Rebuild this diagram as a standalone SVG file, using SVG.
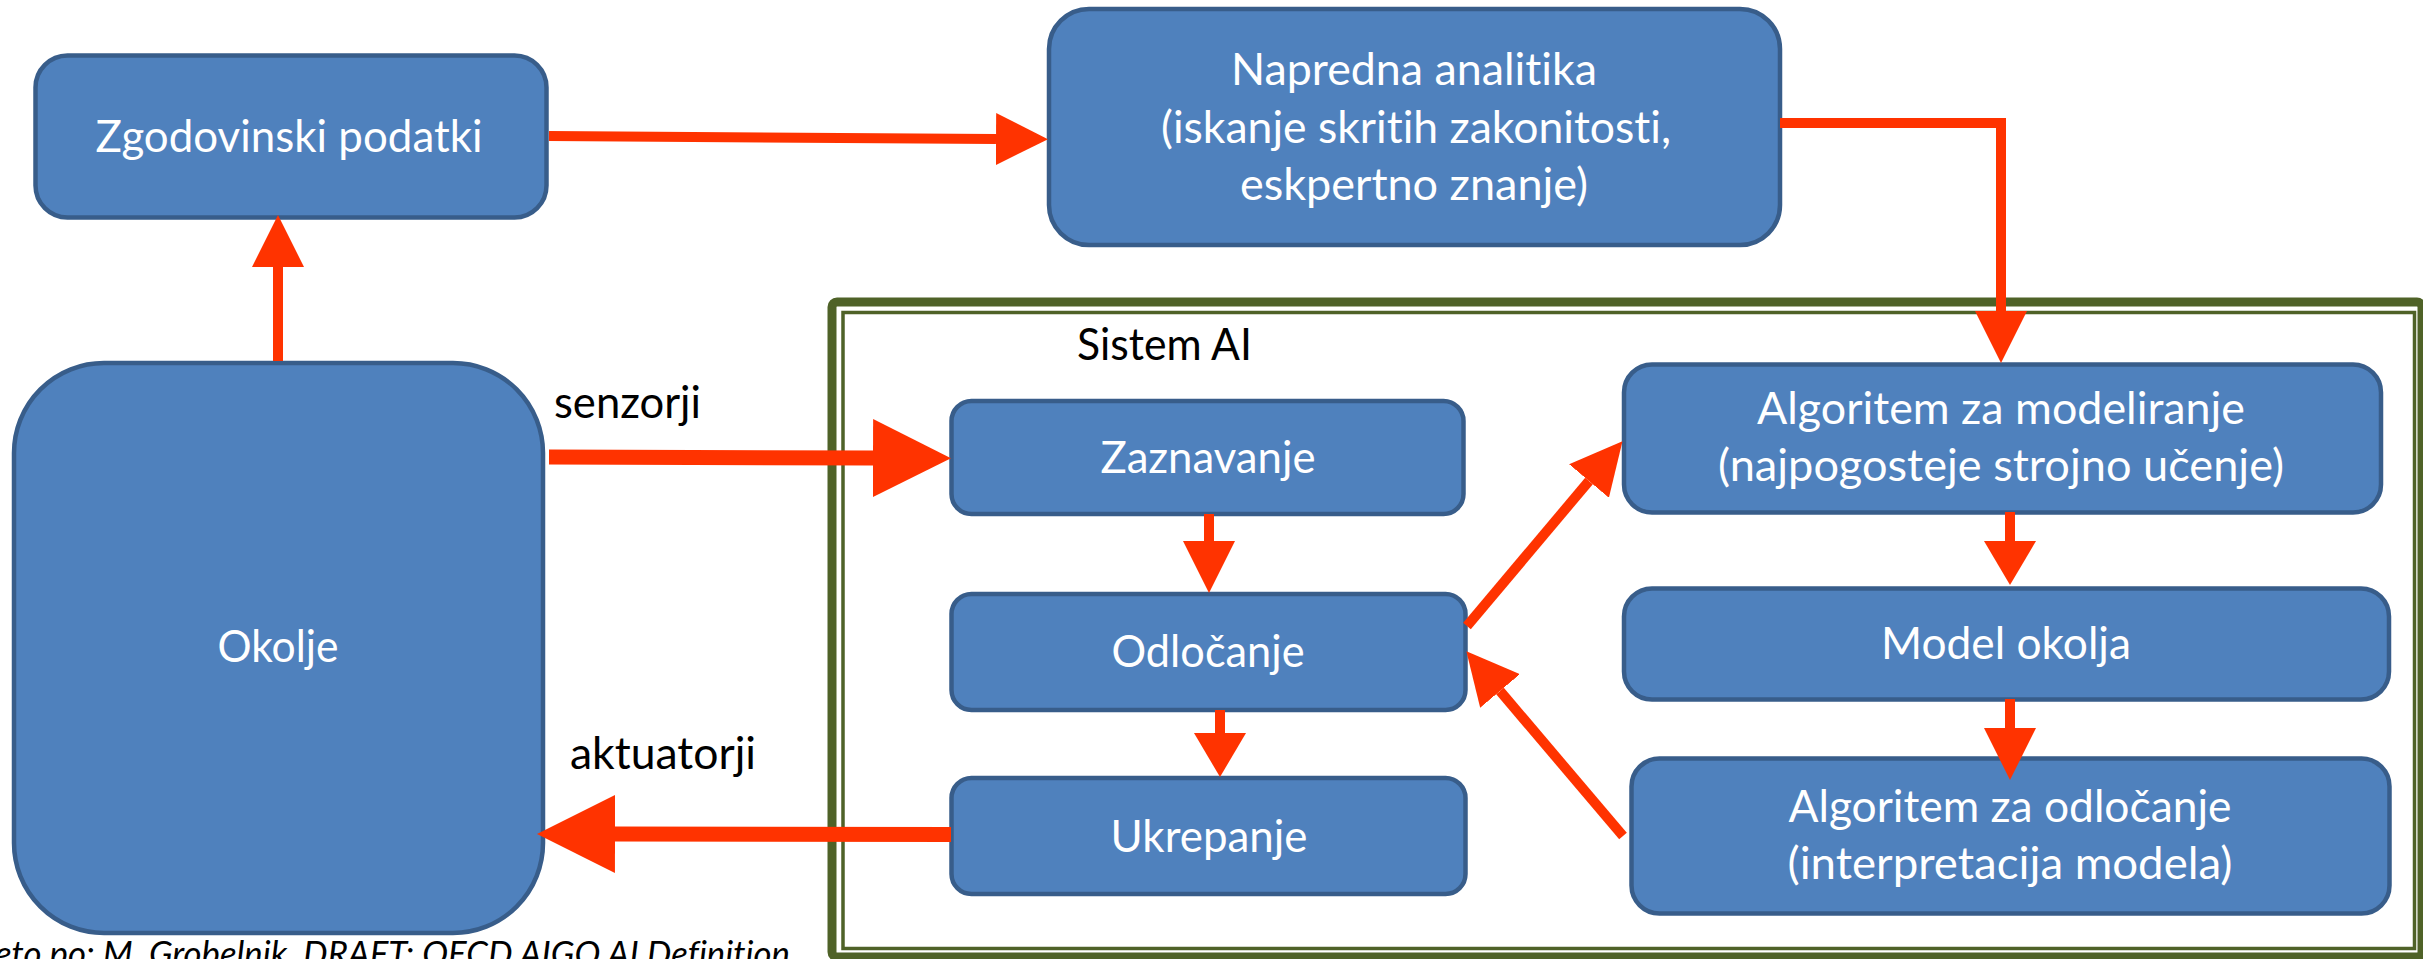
<svg xmlns="http://www.w3.org/2000/svg" width="2423" height="959" viewBox="0 0 2423 959">
  <style>
    text { font-variant-ligatures: none; }
    .box { fill: #4F81BD; stroke: #385D8A; stroke-width: 4.5; }
    .lbl { font-family: Lato, "Open Sans", "Liberation Sans", sans-serif; font-size: 44px; fill: #FFFFFF; text-anchor: middle; }
    .cap { font-family: Lato, "Open Sans", "Liberation Sans", sans-serif; font-size: 44px; fill: #000000; }
    .note { font-family: Lato, "Open Sans", "Liberation Sans", sans-serif; font-size: 34px; font-style: italic; fill: #000000; text-anchor: end; }
    .wire { fill: none; stroke: #FF3300; stroke-width: 10; stroke-linejoin: miter; }
    .wire-thick { fill: none; stroke: #FF3300; stroke-width: 15; }
  </style>
  <defs>
    <marker id="head" markerUnits="userSpaceOnUse" markerWidth="52" markerHeight="52" viewBox="0 0 52 52" refX="0" refY="26" orient="auto">
      <path d="M0,0 L52,26 L0,52 Z" fill="#FF3300"/>
    </marker>
    <marker id="head-short" markerUnits="userSpaceOnUse" markerWidth="44" markerHeight="52" viewBox="0 0 44 52" refX="0" refY="26" orient="auto">
      <path d="M0,0 L44,26 L0,52 Z" fill="#FF3300"/>
    </marker>
    <marker id="head-big" markerUnits="userSpaceOnUse" markerWidth="78" markerHeight="78" viewBox="0 0 78 78" refX="0" refY="39" orient="auto">
      <path d="M0,0 L78,39 L0,78 Z" fill="#FF3300"/>
    </marker>
  </defs>

  <!-- AI system frame: thick-thin double border -->
  <g id="sistem-ai">
    <rect x="832" y="302" width="1590" height="655" rx="5" fill="#FFFFFF" stroke="#4F6228" stroke-width="9"/>
    <rect x="843" y="312.5" width="1571.5" height="636" fill="none" stroke="#4F6228" stroke-width="3.5"/>
    <text class="cap" x="1077" y="360" textLength="175" lengthAdjust="spacingAndGlyphs">Sistem AI</text>
  </g>

  <g id="zgodovinski-podatki">
    <rect class="box" x="35.5" y="55.5" width="511" height="162" rx="32"/>
    <text class="lbl" x="289" y="152" textLength="387" lengthAdjust="spacingAndGlyphs">Zgodovinski podatki</text>
  </g>

  <g id="napredna-analitika">
    <rect class="box" x="1049" y="9" width="731" height="236" rx="40"/>
    <text class="lbl" x="1414" y="85" textLength="366" lengthAdjust="spacingAndGlyphs">Napredna analitika</text>
    <text class="lbl" x="1416" y="143" textLength="510" lengthAdjust="spacingAndGlyphs">(iskanje skritih zakonitosti,</text>
    <text class="lbl" x="1414" y="200" textLength="348" lengthAdjust="spacingAndGlyphs">eskpertno znanje)</text>
  </g>

  <g id="okolje">
    <rect class="box" x="14" y="363" width="529" height="570" rx="90"/>
    <text class="lbl" x="278" y="662" textLength="121" lengthAdjust="spacingAndGlyphs">Okolje</text>
  </g>

  <g id="zaznavanje">
    <rect class="box" x="951.5" y="401" width="512" height="113" rx="20"/>
    <text class="lbl" x="1208" y="473" textLength="215" lengthAdjust="spacingAndGlyphs">Zaznavanje</text>
  </g>

  <g id="odlocanje">
    <rect class="box" x="951.5" y="594" width="514" height="116" rx="20"/>
    <text class="lbl" x="1208" y="667" textLength="193" lengthAdjust="spacingAndGlyphs">Odločanje</text>
  </g>

  <g id="ukrepanje">
    <rect class="box" x="951.5" y="778" width="514" height="116" rx="20"/>
    <text class="lbl" x="1209" y="852" textLength="197" lengthAdjust="spacingAndGlyphs">Ukrepanje</text>
  </g>

  <g id="algoritem-modeliranje">
    <rect class="box" x="1624" y="364.5" width="757" height="148" rx="28"/>
    <text class="lbl" x="2001" y="424" textLength="488" lengthAdjust="spacingAndGlyphs">Algoritem za modeliranje</text>
    <text class="lbl" x="2001" y="481" textLength="566" lengthAdjust="spacingAndGlyphs">(najpogosteje strojno učenje)</text>
  </g>

  <g id="model-okolja">
    <rect class="box" x="1624" y="588.5" width="765" height="111" rx="28"/>
    <text class="lbl" x="2006" y="659" textLength="250" lengthAdjust="spacingAndGlyphs">Model okolja</text>
  </g>

  <g id="algoritem-odlocanje">
    <rect class="box" x="1631.5" y="758.5" width="758" height="155" rx="28"/>
    <text class="lbl" x="2010" y="822" textLength="443" lengthAdjust="spacingAndGlyphs">Algoritem za odločanje</text>
    <text class="lbl" x="2010" y="879" textLength="445" lengthAdjust="spacingAndGlyphs">(interpretacija modela)</text>
  </g>

  <!-- connectors -->
  <g id="connectors">
    <path class="wire" d="M278,361 L278,267" marker-end="url(#head)"/>
    <path class="wire" d="M549,136 L996,139" marker-end="url(#head)"/>
    <path class="wire" d="M1780,123 L2001,123 L2001,311" marker-end="url(#head)"/>
    <path class="wire-thick" d="M549,457 L873,458" marker-end="url(#head-big)"/>
    <path class="wire-thick" d="M951,834.5 L615,834" marker-end="url(#head-big)"/>
    <path class="wire" d="M1209,514 L1209,541" marker-end="url(#head)"/>
    <path class="wire" d="M1220,710 L1220,733" marker-end="url(#head-short)"/>
    <path class="wire" d="M2010,512 L2010,541" marker-end="url(#head-short)"/>
    <path class="wire" d="M2010,699 L2010,728" marker-end="url(#head)"/>
    <path class="wire" d="M1467,626 L1589,481" marker-end="url(#head)"/>
    <path class="wire" d="M1623,836 L1500,691" marker-end="url(#head)"/>
  </g>

  <g id="labels">
    <text class="cap" x="554" y="418" textLength="147" lengthAdjust="spacingAndGlyphs">senzorji</text>
    <text class="cap" x="570" y="769" textLength="186" lengthAdjust="spacingAndGlyphs">aktuatorji</text>
    <text class="note" x="790" y="966" textLength="795" lengthAdjust="spacingAndGlyphs">eto po: M. Grobelnik, DRAFT: OECD AIGO AI Definition</text>
  </g>
</svg>
